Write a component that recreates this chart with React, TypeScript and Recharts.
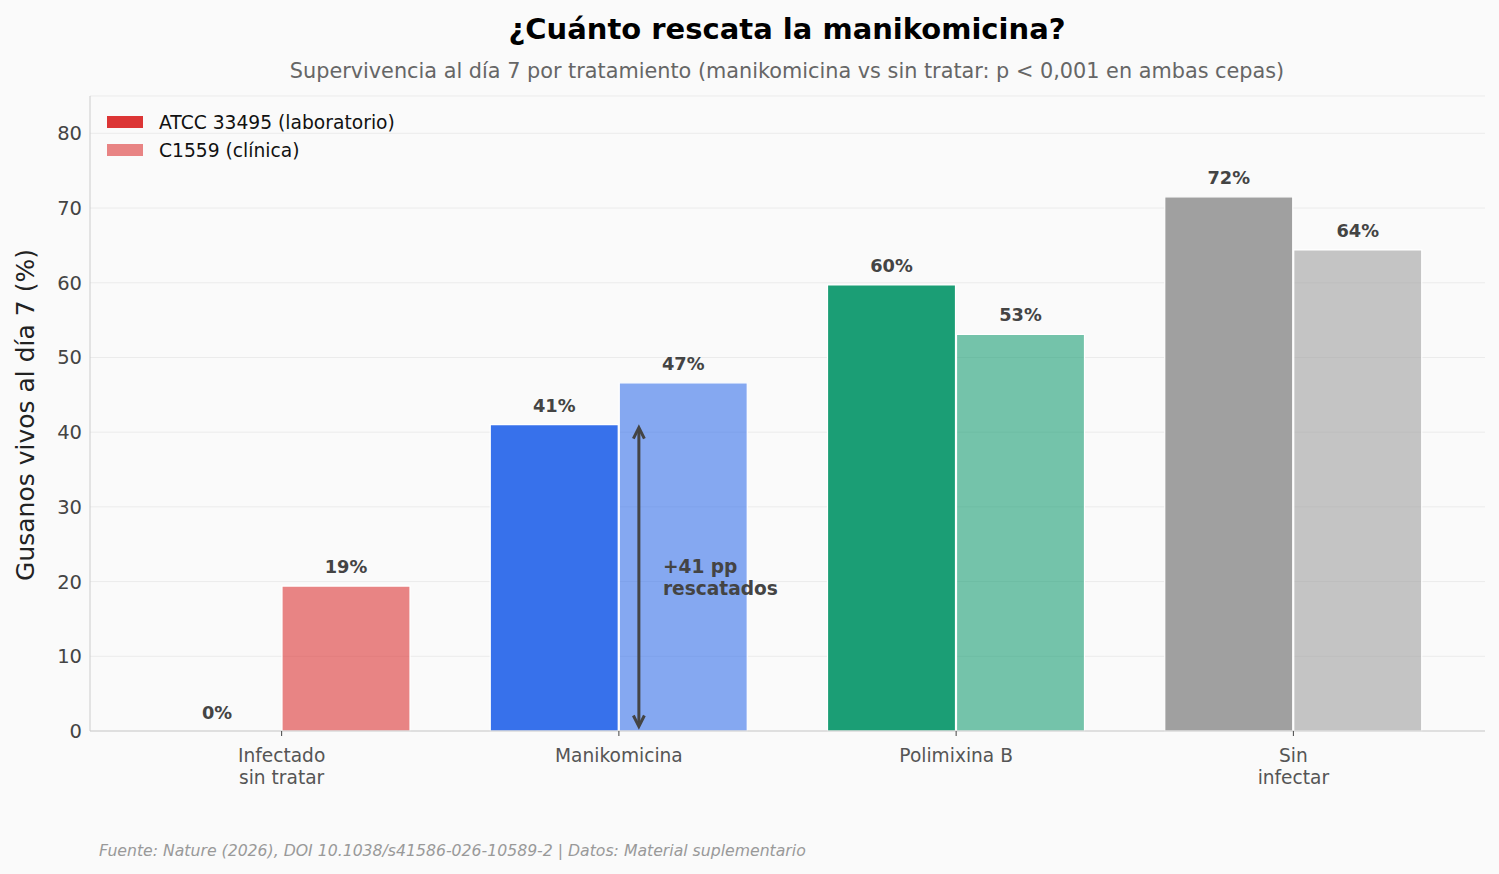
import { Bar, BarChart, CartesianGrid, Cell, LabelList, ReferenceDot, ReferenceLine, XAxis, YAxis } from "recharts";

const CATEGORIES = ["Infectado\nsin tratar", "Manikomicina", "Polimixina B", "Sin\ninfectar"];
const ATCC = [0, 41.0, 59.7, 71.5];
const C1559 = [19.4, 46.6, 53.1, 64.4];
const BASE_COLORS = ["#dc3535", "#3771eb", "#1b9e75", "#a0a0a0"];
const Y_TICKS = [0, 10, 20, 30, 40, 50, 60, 70, 80];
const LEGEND = ["ATCC 33495 (laboratorio)", "C1559 (clínica)"];
const RESCUE_FROM = 0.6;
const RESCUE_TO = 40.6;
const RESCUE_TEXT_Y = 20.5;

const FONT = "DejaVu Sans";
const W = 1499;
const H = 874;

const data = CATEGORIES.map((name, i) => ({ name, atcc: ATCC[i], c1559: C1559[i] }));

function CategoryTick({ x, y, payload }: any) {
  const lines = String(payload.value).split("\n");
  return (
    <text x={x} y={y} textAnchor="middle" fill="#555" fontSize={18.6} fontFamily={FONT}>
      {lines.map((l, i) => (
        <tspan key={i} x={x} dy={i === 0 ? 24 : 22}>
          {l}
        </tspan>
      ))}
    </text>
  );
}

function ValueLabel({ x, y, width, value }: any) {
  const gap = value === 0 ? 11 : 13;
  return (
    <text x={x + width / 2} y={y - gap} textAnchor="middle" fill="#444" fontSize={17.8} fontWeight="bold" fontFamily={FONT}>
      {`${Math.round(value)}%`}
    </text>
  );
}

// double-headed arrow, nudged right of the category centre
function RescueArrow({ x1, y1, y2 }: any) {
  const x = x1 + 20;
  const top = Math.min(y1, y2);
  const bot = Math.max(y1, y2);
  const c = "#444";
  return (
    <g>
      <line x1={x} y1={top + 1} x2={x} y2={bot - 1} stroke={c} strokeWidth={3} />
      <polyline points={`${x - 5.5},${top + 11} ${x},${top} ${x + 5.5},${top + 11}`} fill="none" stroke={c} strokeWidth={3} />
      <polyline points={`${x - 5.5},${bot - 11} ${x},${bot} ${x + 5.5},${bot - 11}`} fill="none" stroke={c} strokeWidth={3} />
    </g>
  );
}

function RescueText({ cx, cy }: any) {
  return (
    <text x={cx + 44} y={cy} fill="#444" fontSize={18.6} fontWeight="bold" fontFamily={FONT}>
      <tspan x={cx + 44} dy={-5}>+41 pp</tspan>
      <tspan x={cx + 44} dy={22}>rescatados</tspan>
    </text>
  );
}

export default function App() {
  return (
    <div style={{ position: "absolute", left: 0, top: 0, width: W, height: H, background: "#fafafa", fontFamily: FONT }}>
      <BarChart
        width={W}
        height={H}
        data={data}
        margin={{ top: 96, right: 14, bottom: 93, left: 10 }}
        barCategoryGap={40}
        barGap={1}
      >
        <CartesianGrid vertical={false} stroke="#ebebeb" />
        <XAxis
          dataKey="name"
          padding={{ left: 23, right: 23 }}
          height={50}
          axisLine={{ stroke: "#cccccc" }}
          tickLine={{ stroke: "#444" }}
          tickSize={5}
          tick={<CategoryTick />}
          interval={0}
        />
        <YAxis
          width={80}
          domain={[0, 85]}
          ticks={Y_TICKS}
          axisLine={{ stroke: "#cccccc" }}
          tickLine={false}
          tick={{ fill: "#444", fontSize: 19.5, fontFamily: FONT }}
        />
        <Bar dataKey="atcc" isAnimationActive={false} stroke="#ffffff" strokeWidth={1.2} minPointSize={1}>
          {data.map((d, i) => (
            <Cell
              key={d.name}
              fill={BASE_COLORS[i]}
              fillOpacity={d.atcc === 0 ? 0 : 1}
              strokeOpacity={d.atcc === 0 ? 0 : 1}
            />
          ))}
          <LabelList dataKey="atcc" content={<ValueLabel />} />
        </Bar>
        <Bar dataKey="c1559" isAnimationActive={false} stroke="#ffffff" strokeWidth={1.2}>
          {data.map((d, i) => (
            <Cell key={d.name} fill={BASE_COLORS[i]} fillOpacity={0.6} />
          ))}
          <LabelList dataKey="c1559" content={<ValueLabel />} />
        </Bar>
        <ReferenceLine
          segment={[
            { x: CATEGORIES[1], y: RESCUE_FROM },
            { x: CATEGORIES[1], y: RESCUE_TO },
          ]}
          shape={(p: any) => <RescueArrow {...p} />}
        />
        <ReferenceDot x={CATEGORIES[1]} y={RESCUE_TEXT_Y} r={0} shape={(p: any) => <RescueText {...p} />} />
      </BarChart>

      <svg width={W} height={H} style={{ position: "absolute", left: 0, top: 0, pointerEvents: "none" }}>
        <text x={787} y={39} textAnchor="middle" fontSize={29} fontWeight="bold" fill="#000" fontFamily={FONT}>
          ¿Cuánto rescata la manikomicina?
        </text>
        <text x={787} y={78} textAnchor="middle" fontSize={20.8} fill="#666" fontFamily={FONT}>
          Supervivencia al día 7 por tratamiento (manikomicina vs sin tratar: p &lt; 0,001 en ambas cepas)
        </text>
        <text
          x={25}
          y={415}
          transform="rotate(-90 25 415)"
          textAnchor="middle"
          dominantBaseline="central"
          fontSize={25}
          fill="#222"
          fontFamily={FONT}
        >
          Gusanos vivos al día 7 (%)
        </text>
        {LEGEND.map((label, i) => (
          <g key={label}>
            <rect x={107} y={116 + i * 28} width={36} height={12} fill={BASE_COLORS[0]} fillOpacity={i === 0 ? 1 : 0.6} />
            <text x={159} y={129 + i * 28} fontSize={18.7} fill="#111" fontFamily={FONT}>
              {label}
            </text>
          </g>
        ))}
        <text x={99} y={856} fontSize={15.7} fontStyle="italic" fill="#999" fontFamily={FONT}>
          Fuente: Nature (2026), DOI 10.1038/s41586-026-10589-2 | Datos: Material suplementario
        </text>
      </svg>
    </div>
  );
}
